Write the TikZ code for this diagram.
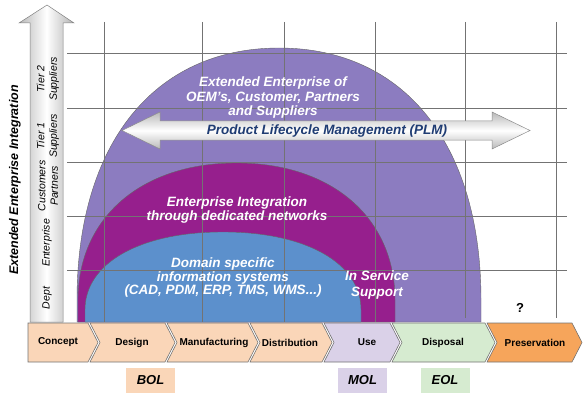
\documentclass[tikz,border=0pt]{standalone}
\usepackage{fontspec}
\setmainfont{Liberation Sans}
\definecolor{peach}{HTML}{FAD6B8}
\definecolor{lilac}{HTML}{DAD1E8}
\definecolor{mint}{HTML}{D6EBD0}
\definecolor{amber}{HTML}{F6A55B}
\definecolor{outerdome}{HTML}{8C7CC0}
\definecolor{middome}{HTML}{961F8D}
\definecolor{innerdome}{HTML}{5C90CC}
\definecolor{plmblue}{HTML}{1F3C73}
\tikzset{
  stage/.style={draw=black!55, line width=0.6pt},
  stagetext/.style={font=\bfseries\fontsize{10}{12}\selectfont},
  domelabel/.style={text=white, align=center, font=\bfseries\itshape\fontsize{13.5}{14.5}\selectfont},
  bandlabel/.style={rotate=90, align=center, font=\itshape\fontsize{10.5}{12.5}\selectfont},
  phasebox/.style={minimum width=49pt, minimum height=25pt, inner sep=0pt, font=\bfseries\itshape\fontsize{13}{15}\selectfont},
  gridline/.style={black!55, line width=0.5pt}
}
\begin{document}
\begin{tikzpicture}[x=1pt,y=-1pt]
  \useasboundingbox (0,0) rectangle (583,393);

  % vertical axis arrow
  \shade[left color=gray!55, right color=gray!60, middle color=white, draw=black!50, line width=0.5pt]
    (30,322) -- (30,23) -- (19,23) -- (47,5) -- (74,23) -- (63,23) -- (63,322) -- cycle;
  \node[rotate=90, font=\bfseries\itshape\fontsize{12.5}{15}\selectfont] (axis) at (15,180) {Extended Enterprise Integration};
  \node[bandlabel] (tier2) at (48,79) {Tier 2\\Suppliers};
  \node[bandlabel] (tier1) at (48,136) {Tier 1\\Suppliers};
  \node[bandlabel] (partners) at (48,186) {Customers\\Partners};
  \node[bandlabel] (enterprise) at (47,243) {Enterprise};
  \node[bandlabel] (dept) at (47,298) {Dept};

  % domes
  \filldraw[fill=outerdome, draw=black!60, line width=0.4pt]
    (77,322) -- (77,300) .. controls (77,144) and (154,48) .. (279,48)
    .. controls (404,48) and (481,144) .. (481,300) -- (481,322) -- cycle;
  \filldraw[fill=middome, draw=black!60, line width=0.4pt]
    (78,322) -- (78,300) .. controls (78,218) and (141,163) .. (236.5,163)
    .. controls (332,163) and (395,218) .. (395,300) -- (395,322) -- cycle;
  \filldraw[fill=innerdome, draw=black!60, line width=0.4pt]
    (85,322) -- (85,310) .. controls (85,263) and (140,232) .. (223,232)
    .. controls (306,232) and (361,263) .. (361,310) -- (361,322) -- cycle;

  % grid
  \draw[gridline] (104,22) -- (104,322);
  \draw[gridline] (202,22) -- (202,322);
  \draw[gridline] (284,22) -- (284,322);
  \draw[gridline] (375,22) -- (375,322);
  \draw[gridline] (465,22) -- (465,318);
  \draw[gridline] (556,22) -- (556,318);
  \draw[gridline] (67,53) -- (567,53);
  \draw[gridline] (67,108) -- (567,108);
  \draw[gridline] (67,162) -- (567,162);
  \draw[gridline] (67,216) -- (567,216);
  \draw[gridline] (67,270) -- (567,270);

  % PLM arrow
  \shade[top color=gray!55, bottom color=gray!55, middle color=white, draw=black!45, line width=0.5pt]
    (122,130.5) -- (160,112) -- (160,121) -- (492,121) -- (492,112) -- (530,130.5)
    -- (492,149) -- (492,140) -- (160,140) -- (160,149) -- cycle;
  \node[text=plmblue, font=\bfseries\itshape\fontsize{13.5}{15}\selectfont] (plm) at (327,131) {Product Lifecycle Management (PLM)};

  \node[domelabel] (extended) at (273,98) {Extended Enterprise of\\OEM's, Customer, Partners\\and Suppliers};
  \node[domelabel] (integration) at (237,210) {Enterprise Integration\\through dedicated networks};
  \node[domelabel, font=\bfseries\itshape\fontsize{13.5}{13.5}\selectfont] (domain) at (223,278) {Domain specific\\information systems\\(CAD, PDM, ERP, TMS, WMS...)};
  \node[domelabel, font=\bfseries\itshape\fontsize{13.5}{16}\selectfont] (service) at (377,285) {In Service\\Support};
  \node[font=\bfseries\fontsize{13}{15}\selectfont] (unknown) at (520,308) {?};

  % lifecycle phases
  \filldraw[stage, fill=peach] (28,323) -- (88,323) -- (98,342.5) -- (88,362) -- (28,362) -- cycle;
  \filldraw[stage, fill=peach] (90,323) -- (165,323) -- (175,342.5) -- (165,362) -- (90,362) -- (100,342.5) -- cycle;
  \filldraw[stage, fill=peach] (167,323) -- (248,323) -- (258,342.5) -- (248,362) -- (167,362) -- (177,342.5) -- cycle;
  \filldraw[stage, fill=peach] (250,323) -- (322,323) -- (332,342.5) -- (322,362) -- (250,362) -- (260,342.5) -- cycle;
  \filldraw[stage, fill=lilac] (324,323) -- (390,323) -- (400,342.5) -- (390,362) -- (324,362) -- (334,342.5) -- cycle;
  \filldraw[stage, fill=mint] (392,323) -- (485,323) -- (495,342.5) -- (485,362) -- (392,362) -- (402,342.5) -- cycle;
  \filldraw[stage, fill=amber] (487,323) -- (572,323) -- (582,342.5) -- (572,362) -- (487,362) -- (497,342.5) -- cycle;

  \node[stagetext] (concept) at (58,342.5) {Concept};
  \node[stagetext] (design) at (132,342.5) {Design};
  \node[stagetext] (manufacturing) at (214,342.5) {Manufacturing};
  \node[stagetext] (distribution) at (290,342.5) {Distribution};
  \node[stagetext] (use) at (367,342.5) {Use};
  \node[stagetext] (disposal) at (443,342.5) {Disposal};
  \node[stagetext] (preservation) at (535,342.5) {Preservation};

  \node[phasebox, fill=peach] (bol) at (150.5,380.5) {BOL};
  \node[phasebox, fill=lilac] (mol) at (362.5,380.5) {MOL};
  \node[phasebox, fill=mint] (eol) at (445,380.5) {EOL};
\end{tikzpicture}
\end{document}
